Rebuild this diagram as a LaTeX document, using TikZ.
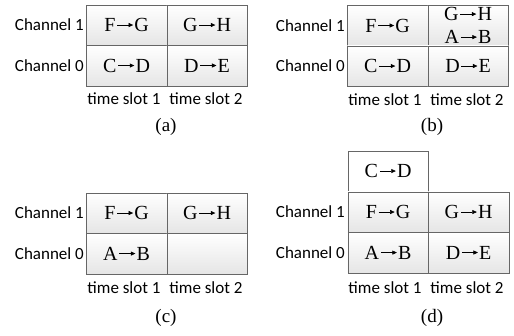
\documentclass[tikz,border=0pt]{standalone}
\usepackage{fontspec}
\setmainfont{Liberation Serif}
\newfontfamily\labfont{Carlito}
\usetikzlibrary{arrows.meta}
\newcommand{\ta}{\kern1.5pt\tikz[baseline=-0.33em]\draw[line width=0.55pt,-{Triangle[length=4.5pt,width=4pt]}](0,0)--(16pt,0);\kern1pt}
\tikzset{
  cell/.style={draw=black!60, line width=0.7pt, top color=white, bottom color=black!10,
    minimum width=80.5pt, minimum height=40.5pt, inner sep=0pt, anchor=north west,
    font=\fontsize{20}{20}\selectfont, align=center},
  plaincell/.style={cell, top color=white, bottom color=white},
  chlab/.style={anchor=east, inner sep=0pt, font=\labfont\fontsize{17}{17}\selectfont},
  tslab/.style={anchor=center, inner sep=0pt, font=\labfont\fontsize{17}{17}\selectfont},
  caplab/.style={anchor=center, inner sep=0pt, font=\fontsize{19}{19}\selectfont}
}
\begin{document}
\begin{tikzpicture}[x=1pt,y=-1pt]
\useasboundingbox (0,0) rectangle (514,335);
% (a)
\node[cell] (a1) at (86,4.5) {F\ta G};
\node[cell] (a2) at (166.5,4.5) {G\ta H};
\node[cell] (a3) at (86,45) {C\ta D};
\node[cell] (a4) at (166.5,45) {D\ta E};
\node[chlab] (ac1) at (84,25) {Channel 1};
\node[chlab] (ac0) at (84,65.5) {Channel 0};
\node[tslab] (at1) at (124,99) {time slot 1};
\node[tslab] (at2) at (206,99) {time slot 2};
\node[caplab] (acap) at (166,127) {(a)};
% (b)
\node[cell] (b1) at (347,5) {F\ta G};
\node[cell,font=\fontsize{20}{23}\selectfont] (b2) at (427.5,5) {G\ta H\\A\ta B};
\node[cell] (b3) at (347,45.5) {C\ta D};
\node[cell] (b4) at (427.5,45.5) {D\ta E};
\node[chlab] (bc1) at (345,25.5) {Channel 1};
\node[chlab] (bc0) at (345,66) {Channel 0};
\node[tslab] (bt1) at (385,100) {time slot 1};
\node[tslab] (bt2) at (467,100) {time slot 2};
\node[caplab] (bcap) at (432,127) {(b)};
% (c)
\node[cell] (c1) at (86,192.5) {F\ta G};
\node[cell] (c2) at (166.5,192.5) {G\ta H};
\node[cell] (c3) at (86,233) {A\ta B};
\node[cell] (c4) at (166.5,233) {};
\node[chlab] (cc1) at (84,213) {Channel 1};
\node[chlab] (cc0) at (84,253.5) {Channel 0};
\node[tslab] (ct1) at (124,288) {time slot 1};
\node[tslab] (ct2) at (206,288) {time slot 2};
\node[caplab] (ccap) at (166,318) {(c)};
% (d)
\node[plaincell] (d0) at (347.5,150.5) {C\ta D};
\node[cell] (d1) at (347.5,191.5) {F\ta G};
\node[cell] (d2) at (428,191.5) {G\ta H};
\node[cell] (d3) at (347.5,232) {A\ta B};
\node[cell] (d4) at (428,232) {D\ta E};
\node[chlab] (dc1) at (345,212) {Channel 1};
\node[chlab] (dc0) at (345,252.5) {Channel 0};
\node[tslab] (dt1) at (385,288) {time slot 1};
\node[tslab] (dt2) at (467,288) {time slot 2};
\node[caplab] (dcap) at (432,318) {(d)};
\end{tikzpicture}
\end{document}
